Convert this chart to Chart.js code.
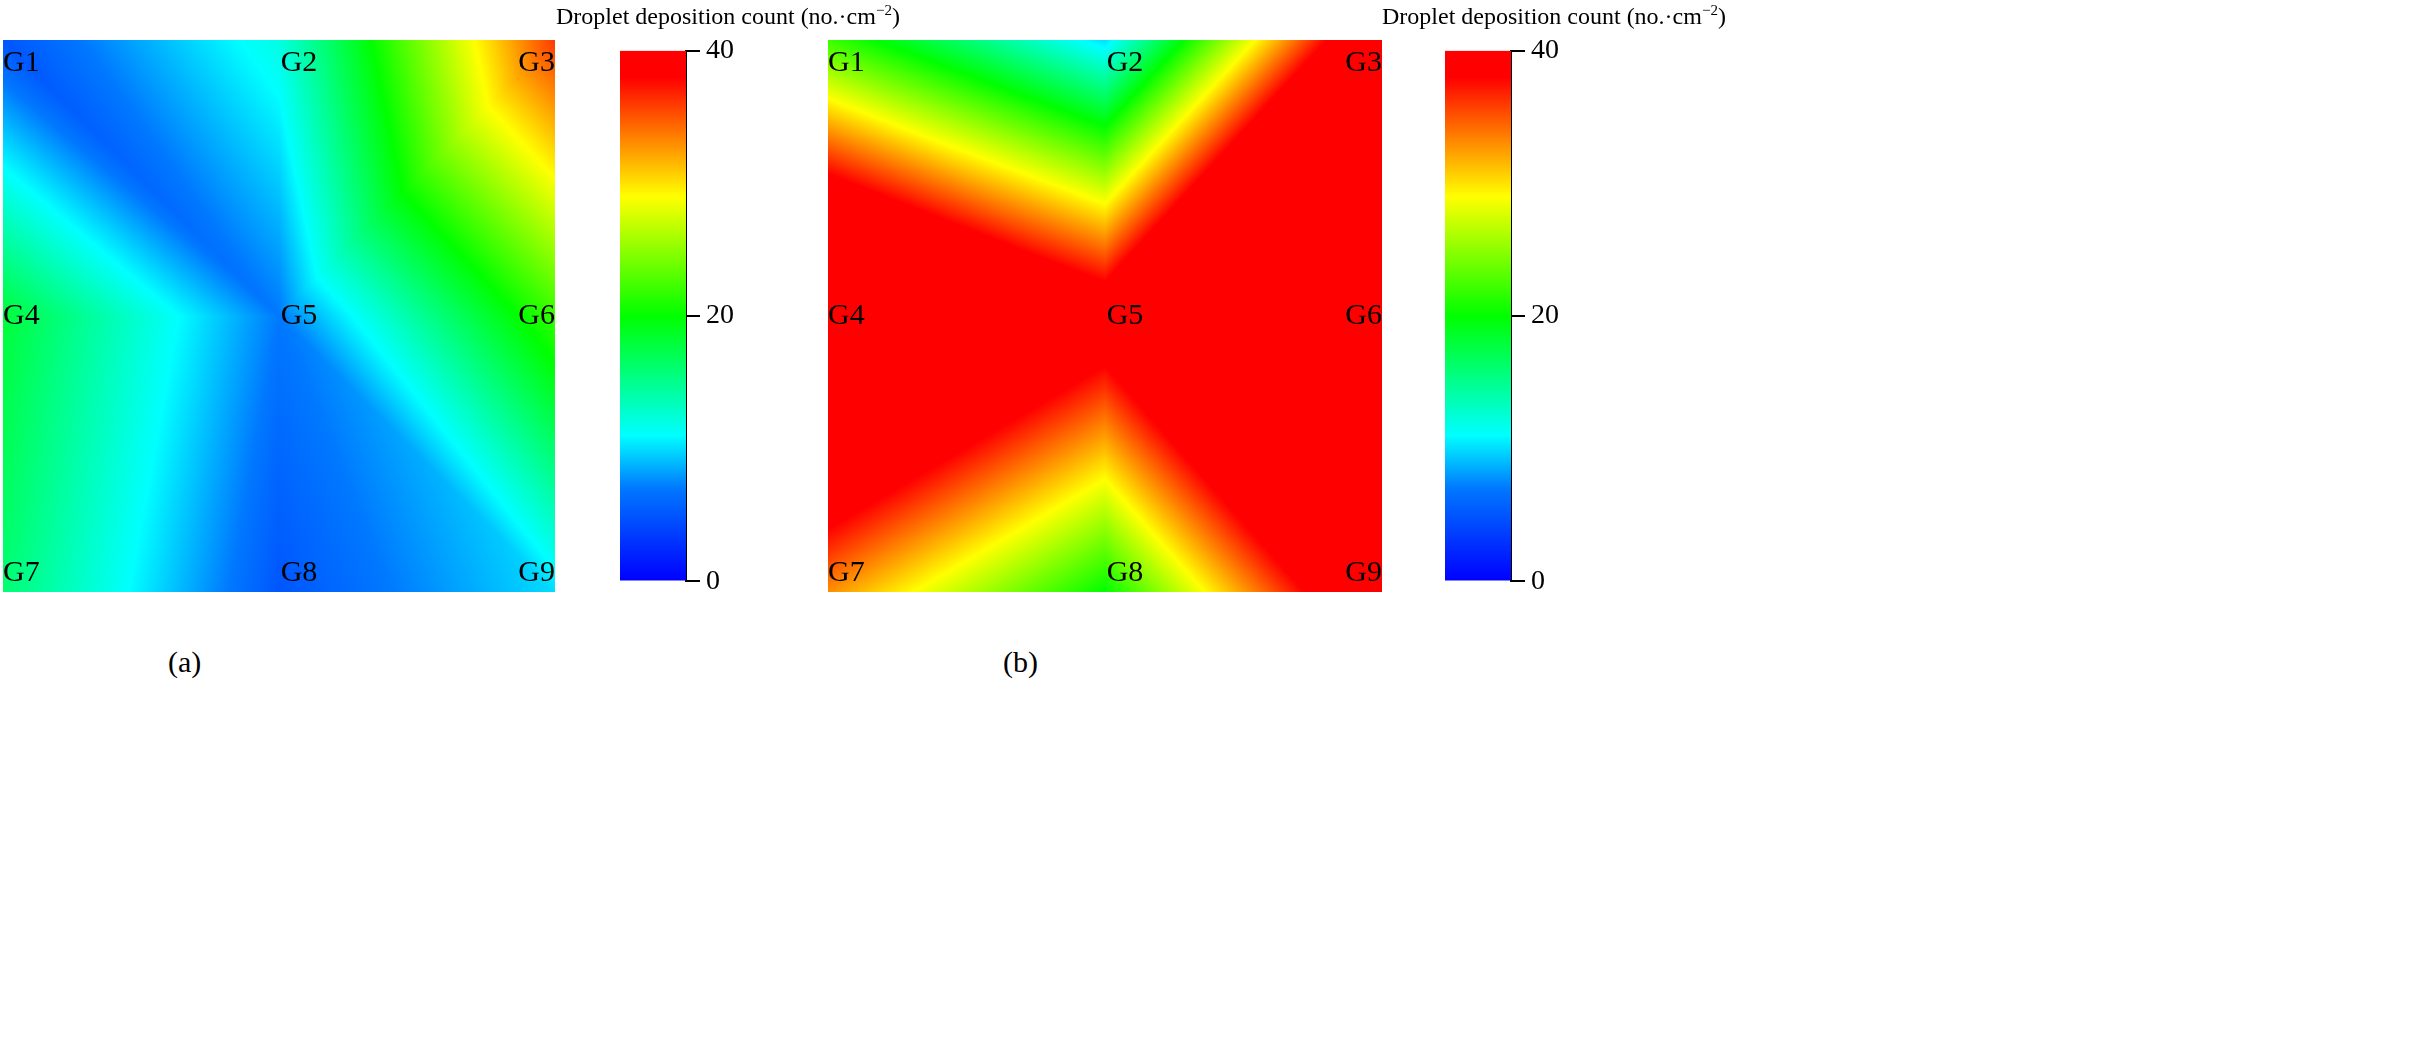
<!DOCTYPE html>
<html>
<head>
<meta charset="utf-8">
<script src="https://cdn.jsdelivr.net/npm/chart.js@4"></script>
<style>
  body { margin: 0; background: #fff; width: 2419px; height: 1053px; position: relative; font-family: "Liberation Serif", serif; }
  .box { position: absolute; }
  .txt { position: absolute; font-size: 26px; color: #000; white-space: nowrap; }
</style>
</head>
<body>
<div class="box" style="left:3px;top:40px;width:552px;height:552px"><canvas id="fieldA"></canvas></div>
<div class="box" style="left:620px;top:28px;width:120px;height:576px"><canvas id="barA"></canvas></div>
<div class="box" style="left:828px;top:40px;width:554px;height:552px"><canvas id="fieldB"></canvas></div>
<div class="box" style="left:1445px;top:28px;width:120px;height:576px"><canvas id="barB"></canvas></div>
<div class="txt" style="left:556px;top:2px;font-size:24px">Droplet deposition count (no.·cm<sup style="font-size:15px">−2</sup>)</div>
<div class="txt" style="left:1382px;top:2px;font-size:24px">Droplet deposition count (no.·cm<sup style="font-size:15px">−2</sup>)</div>
<div class="txt" style="left:168px;top:645px;font-size:30px">(a)</div>
<div class="txt" style="left:1003px;top:645px;font-size:30px">(b)</div>
<script>
const gridLabels = ["G1","G2","G3","G4","G5","G6","G7","G8","G9"];
// values per sampling point, row by row (top to bottom)
const valuesA = [5, 12, 36, 18, 7, 22, 16, 5, 10];
const valuesB = [22, 10, 45, 55, 42, 60, 33, 20, 45];
const colorTicks = [0, 20, 40];
const colorMin = 0, colorMax = 40;

const stops = [[0,[0,0,255]],[7,[0,120,255]],[11,[0,255,255]],[20,[0,255,0]],[29,[255,255,0]],[38,[255,0,0]],[40,[255,0,0]]];
function colorAt(v) {
  v = Math.max(colorMin, Math.min(colorMax, v));
  for (let i = 1; i < stops.length; i++) {
    if (v <= stops[i][0]) {
      const [a, ca] = stops[i-1], [b, cb] = stops[i];
      const t = (v - a) / (b - a);
      return ca.map((c, k) => Math.round(c + (cb[k] - c) * t));
    }
  }
  return stops[stops.length-1][1];
}

// linear interpolation on triangles of the 3x3 grid
function interp(vals, gx, gy) {
  const i = Math.min(1, Math.floor(gx)), j = Math.min(1, Math.floor(gy));
  const fx = gx - i, fy = gy - j;
  const v = (c, r) => vals[(j + r) * 3 + (i + c)];
  if ((i + j) % 2 === 0) {
    // diagonal top-left to bottom-right
    if (fx >= fy) return v(0,0) + fx * (v(1,0) - v(0,0)) + fy * (v(1,1) - v(1,0));
    return v(0,0) + fy * (v(0,1) - v(0,0)) + fx * (v(1,1) - v(0,1));
  } else {
    // diagonal top-right to bottom-left
    if (fx + fy <= 1) return v(0,0) + fx * (v(1,0) - v(0,0)) + fy * (v(0,1) - v(0,0));
    return v(1,1) + (1 - fx) * (v(0,1) - v(1,1)) + (1 - fy) * (v(1,0) - v(1,1));
  }
}

const fieldPlugin = {
  id: 'field',
  beforeDatasetsDraw(chart) {
    const vals = chart.options.plugins.field.values;
    const { ctx, chartArea: a, scales: { x, y } } = chart;
    const w = Math.round(a.right - a.left), h = Math.round(a.bottom - a.top);
    const off = document.createElement('canvas');
    off.width = w; off.height = h;
    const octx = off.getContext('2d');
    const img = octx.createImageData(w, h);
    for (let py = 0; py < h; py++) {
      const gy = y.getValueForPixel(a.top + py + 0.5);
      for (let px = 0; px < w; px++) {
        const gx = x.getValueForPixel(a.left + px + 0.5);
        const c = colorAt(interp(vals, gx, gy));
        const k = (py * w + px) * 4;
        img.data[k] = c[0]; img.data[k+1] = c[1]; img.data[k+2] = c[2]; img.data[k+3] = 255;
      }
    }
    octx.putImageData(img, 0, 0);
    ctx.drawImage(off, a.left, a.top);
    ctx.save();
    ctx.fillStyle = '#000';
    ctx.font = '30px "Liberation Serif"';
    gridLabels.forEach((lab, n) => {
      const c = n % 3, r = Math.floor(n / 3);
      ctx.textAlign = ['left','center','right'][c];
      ctx.textBaseline = ['top','middle','bottom'][r];
      ctx.fillText(lab, x.getPixelForValue(c) + (c === 1 ? 20 : 0), y.getPixelForValue(r) + (r === 0 ? 8 : r === 2 ? -4 : 0));
    });
    ctx.restore();
  }
};

function makeField(id, vals) {
  new Chart(document.getElementById(id), {
    type: 'scatter',
    data: { datasets: [{ data: [] }] },
    options: {
      responsive: true, maintainAspectRatio: false, animation: false,
      layout: { padding: 0 },
      plugins: { legend: { display: false }, tooltip: { enabled: false }, field: { values: vals } },
      scales: {
        x: { type: 'linear', min: 0, max: 2, display: false },
        y: { type: 'linear', min: 0, max: 2, reverse: true, display: false }
      }
    },
    plugins: [fieldPlugin]
  });
}

function makeBar(id) {
  new Chart(document.getElementById(id), {
    type: 'bar',
    data: {
      labels: [''],
      datasets: [{
        data: [[colorMin, colorMax]],
        barPercentage: 1, categoryPercentage: 1,
        backgroundColor(ctx) {
          const { chartArea: a, scales: { y } } = ctx.chart;
          if (!a) return '#000';
          const g = ctx.chart.ctx.createLinearGradient(0, y.getPixelForValue(colorMin), 0, y.getPixelForValue(colorMax));
          for (let v = colorMin; v <= colorMax; v += 1) {
            const c = colorAt(v);
            g.addColorStop((v - colorMin) / (colorMax - colorMin), `rgb(${c[0]},${c[1]},${c[2]})`);
          }
          return g;
        }
      }]
    },
    options: {
      responsive: true, maintainAspectRatio: false, animation: false,
      layout: { padding: { top: 12, bottom: 12 } },
      plugins: { legend: { display: false }, tooltip: { enabled: false } },
      scales: {
        x: { display: false },
        y: {
          position: 'right', min: colorMin, max: colorMax,
          afterBuildTicks(s) { s.ticks = colorTicks.map(v => ({ value: v })); },
          border: { display: true, color: '#000', width: 2 },
          grid: { drawOnChartArea: false, drawTicks: true, tickLength: 14, color: '#000', lineWidth: 2 },
          ticks: { color: '#000', font: { family: 'Liberation Serif', size: 28 }, padding: 6 }
        }
      }
    }
  });
}

makeField('fieldA', valuesA);
makeField('fieldB', valuesB);
makeBar('barA');
makeBar('barB');
</script>
</body>
</html>
